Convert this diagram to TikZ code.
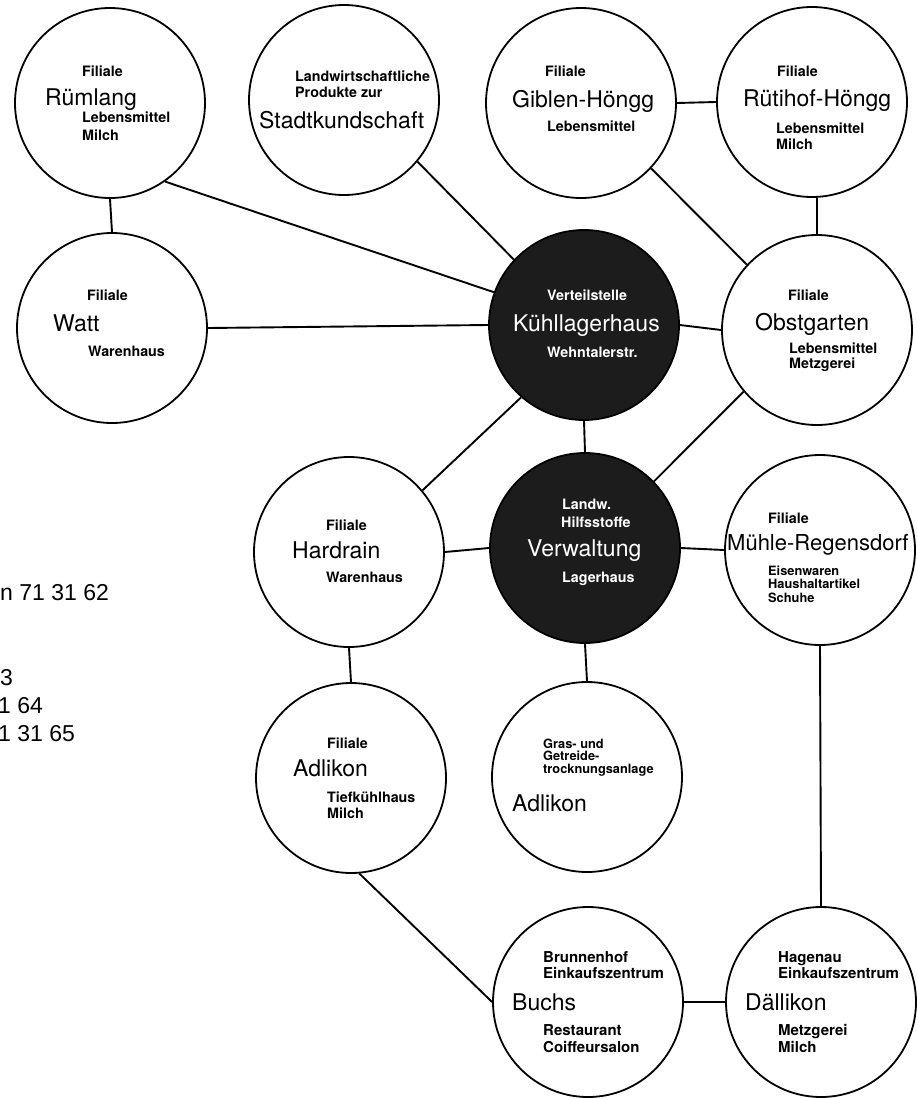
\documentclass[tikz,border=0pt]{standalone}
\usepackage{fontspec}
\setmainfont{TeX Gyre Heros}
\newfontfamily\arialfont{Liberation Sans}
\definecolor{ink}{HTML}{1C1C1C}
\newcommand\T[6]{\node[#5] (#1) at ([shift={(#3,#4)}]#2.center) {#6};}
\begin{document}
\begin{tikzpicture}[x=1pt,y=-1pt,
  circ/.style={circle, draw=black, line width=1.8pt, minimum size=190pt, inner sep=0pt, fill=white},
  dark/.style={circ, fill=ink},
  link/.style={line width=1.9pt, draw=black},
  sm/.style={anchor=base west, inner sep=0pt, font=\fontsize{14.3}{16}\selectfont\bfseries},
  smw/.style={sm, text=white},
  sms/.style={sm, font=\fontsize{12.8}{14}\selectfont\bfseries},
  smb/.style={sm, font=\fontsize{15}{17}\selectfont\bfseries},
  big/.style={anchor=base west, inner sep=0pt, font=\fontsize{23}{26}\selectfont},
  bigw/.style={big, text=white},
  side/.style={anchor=base west, inner sep=0pt, font=\arialfont\fontsize{23}{26}\selectfont}
]
\useasboundingbox (0,0) rectangle (917,1098);
\clip (0,0) rectangle (917,1098);
\fill[white] (0,0) rectangle (917,1098);

% circles
\node[circ] (rum) at (110,103) {};
\node[circ] (stadt) at (344,100) {};
\node[circ] (gib) at (581,103) {};
\node[circ] (rut) at (812,102) {};
\node[circ] (watt) at (112,328) {};
\node[dark] (kuehl) at (584,325) {};
\node[circ] (obst) at (817,330) {};
\node[circ] (hard) at (349,552) {};
\node[dark] (verw) at (585,548) {};
\node[circ] (muehle) at (820,550) {};
\node[circ] (adl) at (351,778) {};
\node[circ] (gras) at (587,777) {};
\node[circ] (buchs) at (588,1002) {};
\node[circ] (dall) at (821,1002) {};

% connectors
\draw[link] (rum.-90) -- (watt.90);
\draw[link] (rum.-55) -- (kuehl.160);
\draw[link] (stadt.-40) -- (kuehl.137);
\draw[link] (gib.0) -- (rut.180);
\draw[link] (gib.-43) -- (obst.137);
\draw[link] (obst.90) -- (obst.90 |- rut.south);
\draw[link] (watt.0) -- (kuehl.180);
\draw[link] (kuehl.0) -- (obst.180);
\draw[link] (kuehl.-90) -- (verw.90);
\draw[link] (hard.40) -- (kuehl.-131);
\draw[link] (obst.-140) -- (verw.44);
\draw[link] (hard.0) -- (verw.180);
\draw[link] (verw.0) -- (muehle.180);
\draw[link] (hard.-90) -- (adl.90);
\draw[link] (verw.-90) -- (gras.90);
\draw[link] (muehle.-90) -- (dall.90);
\draw[link] (adl.-85) -- (buchs.180);
\draw[link] (buchs.0) -- (dall.180);

% texts
\T{rum1}{rum}{-28}{-27}{sm}{Filiale}
\T{rum2}{rum}{-65}{2}{big}{Rümlang}
\T{rum3}{rum}{-28}{19}{sm}{Lebensmittel}
\T{rum4}{rum}{-28}{37}{sm}{Milch}

\T{st1}{stadt}{-49}{-19}{sm}{Landwirtschaftliche}
\T{st2}{stadt}{-49}{-3}{sm}{Produkte zur}
\T{st3}{stadt}{-85}{28}{big}{Stadtkundschaft}

\T{gib1}{gib}{-36}{-27}{sm}{Filiale}
\T{gib2}{gib}{-69}{4}{big}{Giblen-Höngg}
\T{gib3}{gib}{-34}{28}{sm}{Lebensmittel}

\T{rut1}{rut}{-35}{-26}{sm}{Filiale}
\T{rut2}{rut}{-69}{4}{big}{Rütihof-Höngg}
\T{rut3}{rut}{-36}{31}{sm}{Lebensmittel}
\T{rut4}{rut}{-36}{47}{sm}{Milch}

\T{wat1}{watt}{-25}{-28}{sm}{Filiale}
\T{wat2}{watt}{-59}{3}{big}{Watt}
\T{wat3}{watt}{-24}{28}{sm}{Warenhaus}

\T{ku1}{kuehl}{-37}{-25}{smw}{Verteilstelle}
\T{ku2}{kuehl}{-71}{6}{bigw}{Kühllagerhaus}
\T{ku3}{kuehl}{-37}{32}{smw}{Wehntalerstr.}

\T{ob1}{obst}{-29}{-30}{sm}{Filiale}
\T{ob2}{obst}{-62}{0}{big}{Obstgarten}
\T{ob3}{obst}{-28}{23}{sm}{Lebensmittel}
\T{ob4}{obst}{-28}{38}{sm}{Metzgerei}

\T{ve1}{verw}{-23}{-39}{smw}{Landw.}
\T{ve2}{verw}{-24}{-21}{smw}{Hilfsstoffe}
\T{ve3}{verw}{-58}{8}{bigw}{Verwaltung}
\T{ve4}{verw}{-23}{34}{smw}{Lagerhaus}

\T{ha1}{hard}{-23}{-22}{sm}{Filiale}
\T{ha2}{hard}{-57}{6}{big}{Hardrain}
\T{ha3}{hard}{-23}{30}{sm}{Warenhaus}

\T{mu1}{muehle}{-52}{-27}{sm}{Filiale}
\T{mu2}{muehle}{-93}{0}{big,font=\fontsize{22}{25}\selectfont}{Mühle-Regensdorf}
\T{mu3}{muehle}{-52}{25}{sms}{Eisenwaren}
\T{mu4}{muehle}{-52}{38}{sms}{Haushaltartikel}
\T{mu5}{muehle}{-52}{52}{sms}{Schuhe}

\T{ad1}{adl}{-24}{-30}{sm}{Filiale}
\T{ad2}{adl}{-58}{-2}{big}{Adlikon}
\T{ad3}{adl}{-24}{24}{sm}{Tiefkühlhaus}
\T{ad4}{adl}{-24}{40}{sm}{Milch}

\T{gr1}{gras}{-44}{-29}{sms}{Gras- und}
\T{gr2}{gras}{-44}{-17}{sms}{Getreide-}
\T{gr3}{gras}{-44}{-4}{sms}{trocknungsanlage}
\T{gr4}{gras}{-75}{34}{big}{Adlikon}

\T{bu1}{buchs}{-45}{-40}{smb}{Brunnenhof}
\T{bu2}{buchs}{-45}{-24}{smb}{Einkaufszentrum}
\T{bu3}{buchs}{-76}{8}{big}{Buchs}
\T{bu4}{buchs}{-45}{33}{smb}{Restaurant}
\T{bu5}{buchs}{-45}{50}{smb}{Coiffeursalon}

\T{da1}{dall}{-43}{-40}{smb}{Hagenau}
\T{da2}{dall}{-43}{-24}{smb}{Einkaufszentrum}
\T{da3}{dall}{-76}{8}{big}{Dällikon}
\T{da4}{dall}{-43}{33}{smb}{Metzgerei}
\T{da5}{dall}{-43}{50}{smb}{Milch}

% text at the left margin
\node[side] (l1) at (0,600) {n 71 31 62};
\node[side] (l2) at (0,685) {3};
\node[side] (l3) at (-2,713) {1 64};
\node[side] (l4) at (-2,741) {1 31 65};
\end{tikzpicture}
\end{document}
